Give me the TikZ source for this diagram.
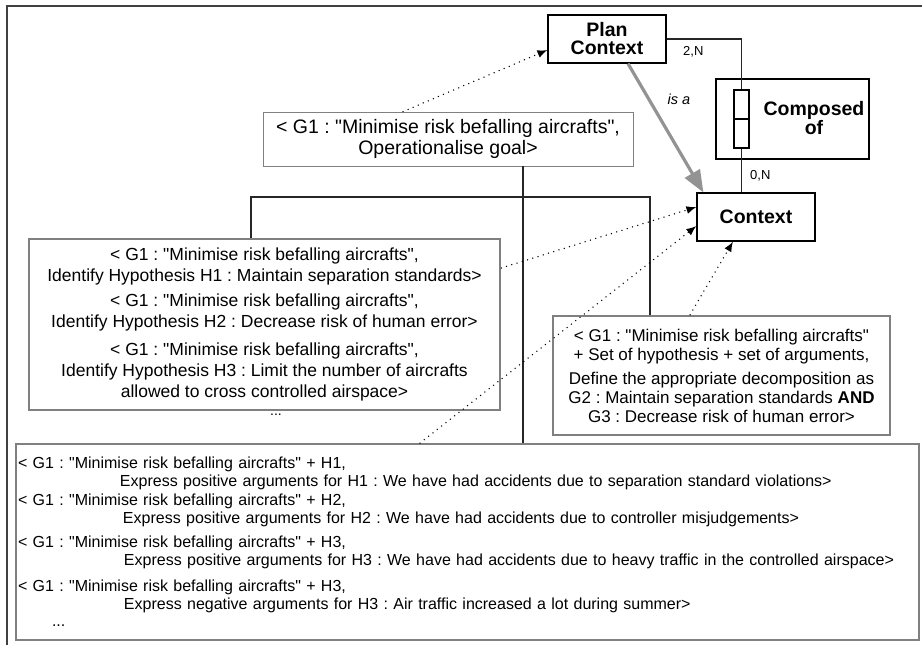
\documentclass[tikz,border=0pt]{standalone}
\usepackage{fontspec}
\setmainfont{Liberation Sans}[Ligatures=TeXOff]
\frenchspacing
\usetikzlibrary{arrows.meta}

\begin{document}
\begin{tikzpicture}[x=1pt, y=-1pt,
        entity/.style={draw, line width=1.2pt, inner sep=0pt, align=center, font=\fontsize{19.5}{18}\selectfont\bfseries},
        card/.style={draw, line width=1.1pt, minimum width=15pt, minimum height=29pt, inner sep=0pt},
        goalbox/.style={draw=gray, line width=0.8pt, inner sep=0pt, align=center, font=\fontsize{19.5}{21}\selectfont},
        ctxbox/.style={draw=gray, line width=2.5pt, fill=white, inner sep=0pt, align=center},
        tree/.style={line width=1.3pt, black!85},
        dotlink/.style={line width=1.5pt, dash pattern=on 0pt off 5.5pt, line cap=round, -{Latex[length=10pt,width=8pt]}},
        card label/.style={font=\fontsize{13}{15}\selectfont, inner sep=1pt}
    ]
        \useasboundingbox (0,0) rectangle (922,645);
        \draw[line width=1.6pt, black!75] (7,645) -- (7,6) -- (922,6);

        % Plan context, its composition and the context
        \node[entity, minimum width=118pt, minimum height=48pt] (plan) at (607,39) {Plan\\Context};
        \node[draw, line width=1.2pt, minimum width=153pt, minimum height=80pt] (comp) at (792.5,119) {};
        \node[entity, draw=none] (complbl) at (814,118) {Composed\\of};
        \node[card] (cardtop) at (741.5,104.5) {};
        \node[card] (cardbot) at (741.5,133.5) {};
        \node[entity, minimum width=118pt, minimum height=48pt] (ctx) at (756,217) {Context};

        \draw[tree] (plan.east) -| (cardtop.north);
        \draw[tree] (cardbot.south) -- (cardbot.south |- ctx.north);
        \node[card label, anchor=west] (twon) at (682,52) {2,N};
        \node[card label, anchor=west] (zeron) at (749,176) {0,N};

        % is a
        \draw[line width=3.2pt, gray!85, -{Triangle[length=22pt,width=17pt]}] ([xshift=21pt]plan.south) -- ([xshift=7pt]ctx.north west);
        \node[font=\fontsize{14.5}{16}\selectfont\itshape] (isa) at (679,99) {is a};

        % Operationalise goal
        \node[goalbox, minimum width=370pt, minimum height=54pt] (op) at (448,139) {< G1 : "Minimise risk befalling aircrafts",\\Operationalise goal>};

        % Hypotheses
        \node[ctxbox, minimum width=471pt, minimum height=171pt, font=\fontsize{17.5}{21}\selectfont] (hyp) at (264.5,324.5) {%
            < G1 : "Minimise risk befalling aircrafts",\\
            Identify Hypothesis H1 : Maintain separation standards>\\[4pt]
            < G1 : "Minimise risk befalling aircrafts",\\
            Identify Hypothesis H2 : Decrease risk of human error>\\[7pt]
            < G1 : "Minimise risk befalling aircrafts",\\
            Identify Hypothesis H3 : Limit the number of aircrafts\\
            allowed to cross controlled airspace>};
        \node[font=\fontsize{14}{16}\selectfont, inner sep=0pt] (hypmore) at (276,415) {...};

        % Decomposition
        \node[ctxbox, minimum width=337pt, minimum height=119pt, font=\fontsize{17}{19}\selectfont] (dec) at (721.5,375.5) {%
            < G1 : "Minimise risk befalling aircrafts"\\
            + Set of hypothesis + set of arguments,\\[5pt]
            Define the appropriate decomposition as\\
            G2 : Maintain separation standards \textbf{AND}\\
            G3 : Decrease risk of human error>};

        % Arguments
        \node[ctxbox, line width=2pt, inner xsep=2pt, text width=899pt, align=left, minimum height=196pt, font=\fontsize{16}{18}\selectfont] (args) at (467.5,542) {%
            < G1 : "Minimise risk befalling aircrafts" + H1,\\
            \hspace*{102pt}Express positive arguments for H1 : We have had accidents due to separation standard violations>\\[1pt]
            < G1 : "Minimise risk befalling aircrafts" + H2,\\
            \hspace*{105pt}Express positive arguments for H2 : We have had accidents due to controller misjudgements>\\[6pt]
            < G1 : "Minimise risk befalling aircrafts" + H3,\\
            \hspace*{106pt}Express positive arguments for H3 : We have had accidents due to heavy traffic in the controlled airspace>\\[8pt]
            < G1 : "Minimise risk befalling aircrafts" + H3,\\
            \hspace*{106pt}Express negative arguments for H3 : Air traffic increased a lot during summer>\\[-1pt]
            \hspace*{34pt}...};

        % Decomposition tree
        \coordinate (fork) at (523,197);
        \coordinate (optap) at ([xshift=75pt]op.south);
        \draw[tree] (optap) -- (optap |- args.north);
        \draw[tree] ([xshift=-13.5pt]hyp.north) |- (fork) -| ([xshift=-71.5pt]dec.north);

        % Links to the contexts
        \draw[dotlink] ([xshift=-45pt]op.north) -- ([yshift=-11pt]plan.west);
        \draw[dotlink] ([yshift=56.5pt]hyp.east) -- ([yshift=10pt]ctx.west);
        \draw[dotlink] ([xshift=-47.5pt]args.north) -- ([yshift=-9pt]ctx.west);
        \draw[dotlink] ([xshift=-31.5pt]dec.north) -- ([xshift=-23pt]ctx.south);
    \end{tikzpicture}
\end{document}
